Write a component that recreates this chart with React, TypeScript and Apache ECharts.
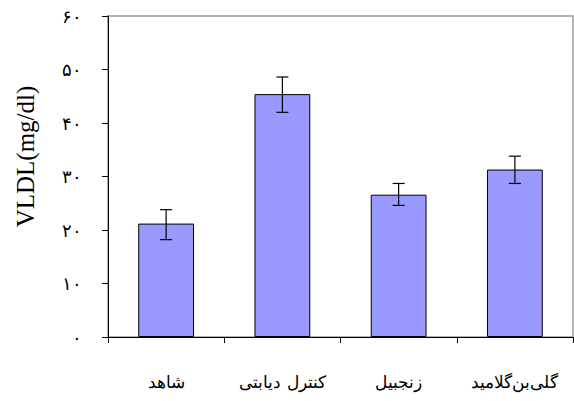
import * as echarts from "echarts";
import { useEffect, useRef } from "react";

const categories = ["شاهد", "کنترل دیابتی", "زنجبیل", "گلی‌بن‌گلامید"];
const values = [21.2, 45.4, 26.6, 31.3];
const errLow = [18.2, 42.0, 24.6, 28.7];
const errHigh = [23.8, 48.6, 28.7, 33.8];
const tickLabels: Record<number, string> = { 0: "٠", 10: "١٠", 20: "٢٠", 30: "٣٠", 40: "۴٠", 50: "۵٠", 60: "۶٠" };

const App = () => {
  const chartRef = useRef<HTMLDivElement>(null);

  useEffect(() => {
    if (!chartRef.current) return;
    const chart = echarts.init(chartRef.current, undefined, { renderer: "svg" });
    chart.setOption({
      animation: false,
      grid: { left: 108, top: 16, right: 1, bottom: 64, show: true, borderColor: "#999", borderWidth: 1.5 },
      xAxis: {
        type: "category",
        data: categories,
        axisLine: { lineStyle: { color: "#000", width: 1 } },
        axisTick: { show: true, inside: false, length: 6, lineStyle: { color: "#000" } },
        axisLabel: { color: "#000", fontSize: 17, fontFamily: "DejaVu Serif, serif", margin: 36 },
      },
      yAxis: {
        type: "value",
        min: 0,
        max: 60,
        interval: 10,
        name: "VLDL(mg/dl)",
        nameLocation: "middle",
        nameGap: 70,
        nameTextStyle: { color: "#000", fontSize: 25, fontFamily: "Liberation Serif, serif", padding: [0, 0, 0, 40] },
        splitLine: { show: false },
        axisLine: { show: true, lineStyle: { color: "#000" } },
        axisTick: { show: true, length: 6, lineStyle: { color: "#000" } },
        axisLabel: { color: "#000", fontSize: 18, fontFamily: "DejaVu Serif, serif", margin: 26, formatter: (v: number) => tickLabels[v] ?? String(v) },
      },
      series: [
        {
          type: "bar",
          data: values,
          barWidth: "48%",
          itemStyle: { color: "#9999ff", borderColor: "#000", borderWidth: 1 },
        },
        {
          type: "custom",
          data: categories.map((_, i) => [i, errLow[i], errHigh[i]]),
          renderItem: (_p: any, api: any) => {
            const lo = api.coord([api.value(0), api.value(1)]);
            const hi = api.coord([api.value(0), api.value(2)]);
            const w = 6;
            const style = { stroke: "#000", lineWidth: 1.2 };
            return {
              type: "group",
              children: [
                { type: "line", shape: { x1: lo[0], y1: lo[1], x2: hi[0], y2: hi[1] }, style },
                { type: "line", shape: { x1: lo[0] - w, y1: lo[1], x2: lo[0] + w, y2: lo[1] }, style },
                { type: "line", shape: { x1: hi[0] - w, y1: hi[1], x2: hi[0] + w, y2: hi[1] }, style },
              ],
            };
          },
          z: 10,
        },
      ],
    });
    return () => chart.dispose();
  }, []);

  return <div ref={chartRef} style={{ position: "absolute", left: 0, top: 0, width: 574, height: 401 }} />;
};

export default App;
